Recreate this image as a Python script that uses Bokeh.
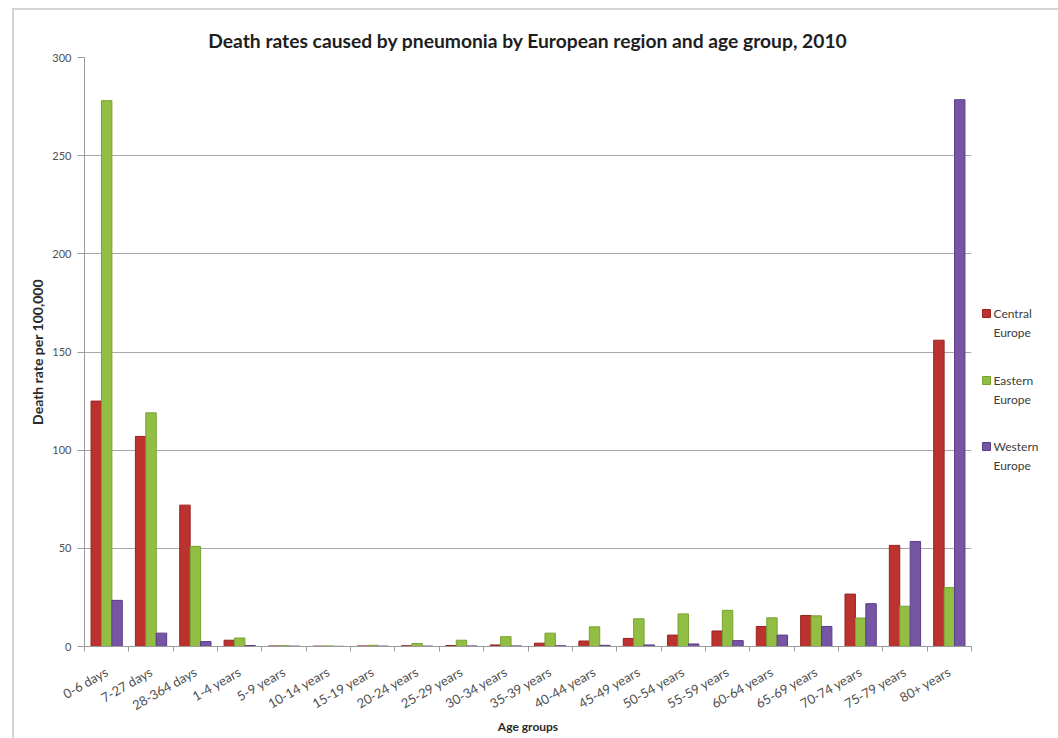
from bokeh.plotting import figure
from bokeh.layouts import row
from bokeh.models import FixedTicker, ColumnDataSource, Range1d
from bokeh.transform import dodge
from bokeh.core.properties import value
from bokeh.embed import file_html
from bokeh.resources import INLINE

# Pneumonia death rates per 100,000 by age group, 2010
age_groups = ["0-6 days", "7-27 days", "28-364 days", "1-4 years", "5-9 years",
              "10-14 years", "15-19 years", "20-24 years", "25-29 years",
              "30-34 years", "35-39 years", "40-44 years", "45-49 years",
              "50-54 years", "55-59 years", "60-64 years", "65-69 years",
              "70-74 years", "75-79 years", "80+ years"]
central = [125, 107, 72, 3.2, 0.3, 0.2, 0.3, 0.4, 0.5, 0.8, 1.7, 2.8, 4.1,
           5.8, 7.9, 10.2, 15.8, 26.7, 51.5, 156]
eastern = [278, 119, 51, 4.3, 0.4, 0.3, 0.6, 1.5, 3.2, 5.0, 6.8, 10.0, 14.1,
           16.6, 18.4, 14.6, 15.6, 14.5, 20.5, 30]
western = [23.5, 6.8, 2.5, 0.5, 0.2, 0.1, 0.2, 0.2, 0.3, 0.3, 0.4, 0.6, 0.8,
           1.3, 3.0, 5.8, 10.2, 21.8, 53.5, 278.5]
regions = ["Central Europe", "Eastern Europe", "Western Europe"]
y_ticks = [0, 50, 100, 150, 200, 250, 300]

fills = ["#BB322E", "#93BE44", "#7655A5"]
edges = ["#98221F", "#77A22F", "#5A3D88"]

n = len(age_groups)
centers = [i + 0.5 for i in range(n)]
bounds = list(range(n + 1))

src = ColumnDataSource(dict(x=centers, central=central, eastern=eastern,
                            western=western))

FONT = "Lato"
H = 728
TOP, BOTTOM = 47, 92

p = figure(width=961, height=H,
           x_range=Range1d(0, n), y_range=Range1d(0, 300),
           output_backend="svg", toolbar_location=None,
           min_border_left=70, min_border_right=4,
           min_border_top=TOP, min_border_bottom=BOTTOM)
p.outline_line_color = None
p.background_fill_color = "white"

p.title.text = "Death rates caused by pneumonia by European region and age group, 2010"
p.title.align = "center"
p.title.text_font = FONT
p.title.text_font_style = "bold"
p.title.text_font_size = "19.25px"
p.title.text_color = "#1e1e1e"
p.title.standoff = 12

bar_w = 0.235
series = ["central", "eastern", "western"]
offsets = [-bar_w, 0.0, bar_w]
for key, off, fc, ec in zip(series, offsets, fills, edges):
    p.vbar(x=dodge("x", off, range=p.x_range), top=key, width=bar_w,
           source=src, fill_color=fc, line_color=ec, line_width=1)

# x axis: labels at category centres, small ticks at category boundaries
xa = p.xaxis[0]
xa.ticker = FixedTicker(ticks=centers, minor_ticks=bounds)
xa.major_label_overrides = {c: lab for c, lab in zip(centers, age_groups)}
xa.major_tick_in = 0
xa.major_tick_out = 0
xa.minor_tick_in = 0
xa.minor_tick_out = 5
xa.minor_tick_line_color = "#9a9a9a"
xa.axis_line_color = "#9a9a9a"
xa.major_label_orientation = 0.52
xa.major_label_standoff = 19
xa.major_label_text_font = FONT
xa.major_label_text_font_size = "13px"
xa.major_label_text_color = "#505050"
xa.axis_label = "Age groups"
xa.axis_label_text_font = FONT
xa.axis_label_text_font_style = "bold"
xa.axis_label_text_font_size = "12px"
xa.axis_label_text_color = "#2a2a2a"
xa.axis_label_standoff = -4

ya = p.yaxis[0]
ya.ticker = FixedTicker(ticks=y_ticks)
ya.major_tick_in = 0
ya.major_tick_out = 7
ya.minor_tick_out = 0
ya.minor_tick_in = 0
ya.major_tick_line_color = "#9a9a9a"
ya.axis_line_color = "#9a9a9a"
ya.major_label_text_font = FONT
ya.major_label_text_font_size = "11px"
ya.major_label_text_color = "#505050"
ya.major_label_standoff = 6
ya.axis_label = "Death rate per 100,000"
ya.axis_label_text_font = FONT
ya.axis_label_text_font_style = "bold"
ya.axis_label_text_font_size = "14px"
ya.axis_label_text_color = "#2a2a2a"
ya.axis_label_standoff = 3

p.xgrid.grid_line_color = None
p.ygrid.ticker = FixedTicker(ticks=y_ticks)
p.ygrid.grid_line_color = "#a8a8a8"
p.ygrid.grid_line_width = 1

# legend panel to the right; its frame lines up with the chart frame,
# so the vertical range runs in page pixels from frame bottom to frame top
leg = figure(width=83, height=H, x_range=Range1d(0, 83),
             y_range=Range1d(646, 57),
             output_backend="svg", toolbar_location=None,
             x_axis_location=None, y_axis_location=None,
             min_border_left=0, min_border_right=0,
             min_border_top=TOP, min_border_bottom=BOTTOM)
leg.outline_line_color = None
leg.xgrid.visible = False
leg.ygrid.visible = False

row_top = [313, 380, 446]
line_gap = 19
first_words = [r.split(" ", 1)[0] for r in regions]
second_words = [r.split(" ", 1)[1] for r in regions]
leg.scatter(x=[11] * 3, y=row_top, marker="square", size=8,
            fill_color=fills, line_color=edges)
leg.text(x=[18] * 3, y=row_top, text=first_words, text_font=value(FONT),
         text_font_size="12px", text_color="#3c3c3c",
         text_align="left", text_baseline="middle")
leg.text(x=[18] * 3, y=[t + line_gap for t in row_top], text=second_words,
         text_font=value(FONT), text_font_size="12px", text_color="#3c3c3c",
         text_align="left", text_baseline="middle")

layout = row(p, leg, margin=(8, 0, 0, 12),
             styles={"border-left": "2px solid #d4d4d4",
                     "border-top": "2px solid #d4d4d4"})

open("out.html", "w").write(file_html(layout, INLINE))
